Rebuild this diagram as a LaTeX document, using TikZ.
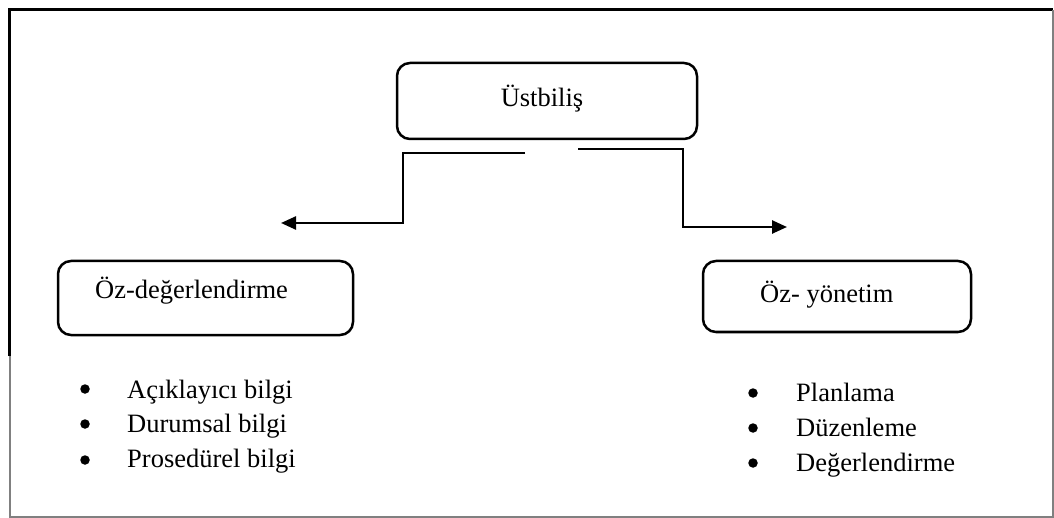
\documentclass[tikz,border=0pt]{standalone}
\usepackage{fontspec}
\setmainfont{Liberation Serif}
\usetikzlibrary{arrows.meta}
\begin{document}
\begin{tikzpicture}[x=1pt,y=-1pt,
  box/.style={draw=black,line width=2.5pt,rounded corners=13pt,minimum width=#1,inner sep=0pt},
  lbl/.style={anchor=base west,inner sep=0pt,font=\fontsize{26.5}{31}\selectfont},
  conn/.style={line width=2.5pt},
  tip/.style={-{Triangle[length=15pt,width=13pt]}},
  dot/.style={circle,fill=black,minimum size=9.5pt,inner sep=0pt}]
\useasboundingbox (0,0) rectangle (1054,518);
% frame
\draw[line width=3pt] (9,356) -- (9,10) -- (1053,10);
\draw[gray,line width=1.2pt] (10,356) -- (10,517) -- (1053,517) -- (1053,10);
% boxes
\node[box=300pt,minimum height=76pt] (top) at (547,101) {};
\node[lbl,anchor=base] (topt) at (542,107) {Üstbiliş};
\node[box=295pt,minimum height=74pt] (left) at (205.5,298) {};
\node[lbl] (leftt) at (95,299) {Öz-değerlendirme};
\node[box=268pt,minimum height=71pt] (right) at (837,296.5) {};
\node[lbl] (rightt) at (760,303) {Öz- yönetim};
% connectors
\coordinate (l0) at (525,153);
\coordinate (l1) at (403,153);
\coordinate (l2) at (403,223);
\coordinate (l3) at (281,223);
\coordinate (r0) at (578,149);
\coordinate (r1) at (683,149);
\coordinate (r2) at (683,227);
\coordinate (r3) at (787,227);
\draw[conn,tip] (l0) -- (l1) -- (l2) -- (l3);
\draw[conn,tip] (r0) -- (r1) -- (r2) -- (r3);
% left list
\node[dot] (b1) at (85,389) {};
\node[dot] (b2) at (85,424) {};
\node[dot] (b3) at (85,460) {};
\node[lbl] (t1) at (127,398) {Açıklayıcı bilgi};
\node[lbl] (t2) at (127,432) {Durumsal bilgi};
\node[lbl] (t3) at (127,467) {Prosedürel bilgi};
% right list
\node[dot] (c1) at (753,393) {};
\node[dot] (c2) at (753,428) {};
\node[dot] (c3) at (753,463) {};
\node[lbl] (u1) at (796,401) {Planlama};
\node[lbl] (u2) at (796,436) {Düzenleme};
\node[lbl] (u3) at (796,471) {Değerlendirme};
\end{tikzpicture}
\end{document}
